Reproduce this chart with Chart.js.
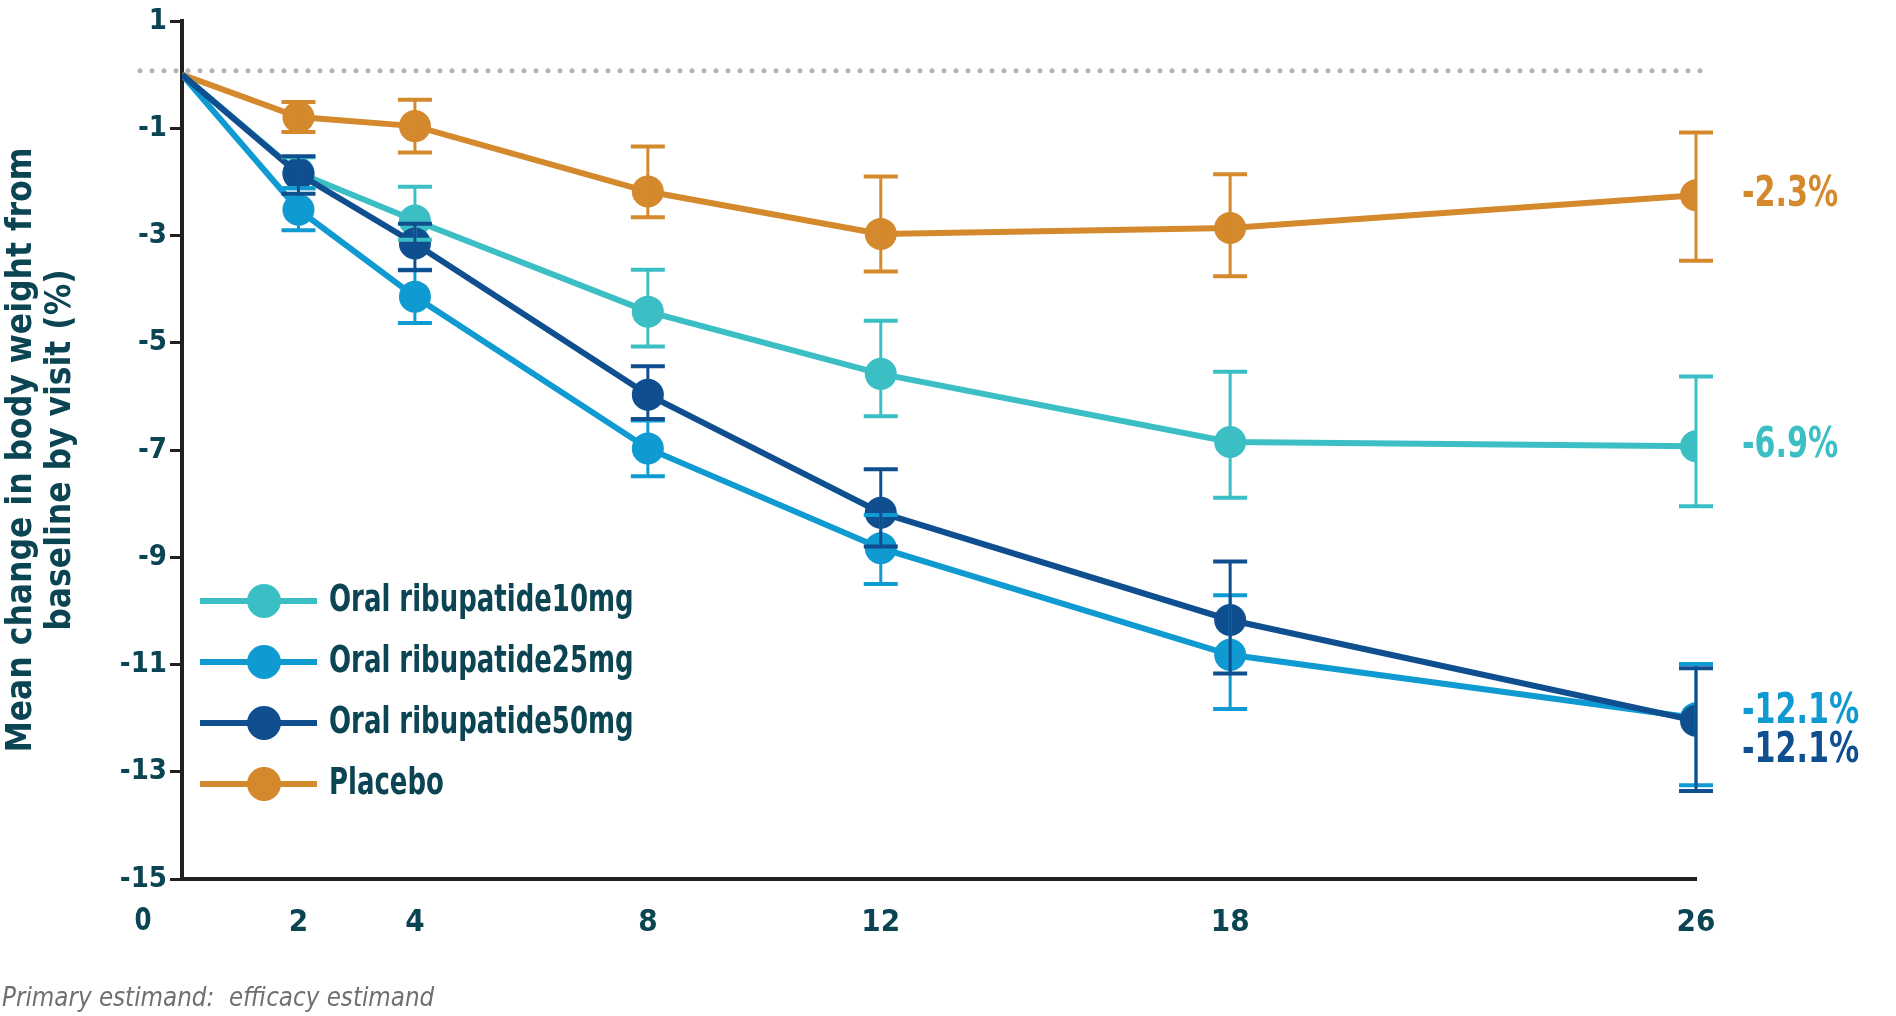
<!DOCTYPE html>
<html>
<head>
<meta charset="utf-8">
<script src="https://cdn.jsdelivr.net/npm/chart.js@4.4.1/dist/chart.umd.min.js"></script>
<style>
  html, body { margin: 0; padding: 0; background: #fff; }
  #wrap { width: 1896px; height: 1016px; position: relative; }
</style>
</head>
<body>
<div id="wrap"><canvas id="weightChart"></canvas></div>
<script>
// x axis: weeks from baseline
const weeks = [0, 2, 4, 8, 12, 18, 26];
const xTicks = [0, 2, 4, 8, 12, 18, 26];
const yTicks = [1, -1, -3, -5, -7, -9, -11, -13, -15];

const seriesNames = ["Oral ribupatide10mg", "Oral ribupatide25mg", "Oral ribupatide50mg", "Placebo"];

// mean change in body weight (%) per visit
const mean10 = [0, -1.83, -2.72, -4.42, -5.58, -6.85, -6.93];
const mean25 = [0, -2.52, -4.14, -6.97, -8.83, -10.82, -12.0];
const mean50 = [0, -1.85, -3.15, -5.97, -8.17, -10.17, -12.05];
const meanPbo = [0, -0.79, -0.96, -2.18, -2.97, -2.86, -2.25];

// error bar ends (upper / lower)
const hi10 = [null, -1.54, -2.09, -3.64, -4.59, -5.54, -5.63];
const lo10 = [null, -2.12, -3.08, -5.07, -6.37, -7.89, -8.05];
const hi25 = [null, -2.12, -3.64, -6.45, -8.21, -9.71, -10.99];
const lo25 = [null, -2.90, -4.63, -7.49, -9.50, -11.83, -13.25];
const hi50 = [null, -1.52, -2.78, -5.44, -7.36, -9.08, -11.07];
const lo50 = [null, -2.22, -3.65, -6.42, -8.80, -11.17, -13.36];
const hiPbo = [null, -0.51, -0.47, -1.34, -1.90, -1.86, -1.08];
const loPbo = [null, -1.07, -1.45, -2.66, -3.67, -3.76, -3.47];

const endLabels = ["-6.9%", "-12.1%", "-12.1%", "-2.3%"];
const yTitle = ["Mean change in body weight from", "baseline by visit (%)"];
const footnote = "Primary estimand:  efficacy estimand";

const colors = ["#3CBFC4", "#0F9BD2", "#0F4F90", "#D4892C"];
const textColor = "#0B4452";
const axisColor = "#231F20";
const FONT = "'DejaVu Sans Condensed', 'Liberation Sans Narrow', sans-serif";

const means = [mean10, mean25, mean50, meanPbo];
const his = [hi10, hi25, hi50, hiPbo];
const los = [lo10, lo25, lo50, loPbo];
const drawOrder = [2, 1, 0, 3]; // 50mg on top
const labelDy = [0, -6, 30, 0];

Chart.defaults.font.family = FONT;

// text squeezed sideways, the source uses a narrow face
function narrowText(ctx, txt, x, y, sx) {
  ctx.save();
  ctx.translate(x, y);
  ctx.scale(sx, 1);
  ctx.fillText(txt, 0, 0);
  ctx.restore();
}

// dotted zero line
const zeroLine = {
  id: "zeroLine",
  beforeDatasetsDraw(chart) {
    const { ctx, chartArea, scales } = chart;
    const y = scales.y.getPixelForValue(0);
    ctx.save();
    ctx.strokeStyle = "#B5B5B5";
    ctx.lineWidth = 5;
    ctx.lineCap = "round";
    ctx.setLineDash([0, 12]);
    ctx.beginPath();
    ctx.moveTo(chartArea.left - 42, y - 4);
    ctx.lineTo(chartArea.right + 10, y - 4);
    ctx.stroke();
    ctx.restore();
  }
};

// error bars, end labels, legend, footnote
const extras = {
  id: "extras",
  afterDatasetsDraw(chart) {
    const { ctx, scales } = chart;
    const xs = scales.x, ys = scales.y;
    ctx.save();
    [0, 1, 2, 3].forEach(s => {
      ctx.strokeStyle = colors[s];
      weeks.forEach((w, i) => {
        if (his[s][i] == null) return;
        const x = xs.getPixelForValue(w);
        const yt = ys.getPixelForValue(his[s][i]);
        const yb = ys.getPixelForValue(los[s][i]);
        ctx.lineWidth = 3;
        ctx.beginPath();
        ctx.moveTo(x, yt); ctx.lineTo(x, yb);
        ctx.stroke();
        ctx.lineWidth = 4;
        ctx.beginPath();
        ctx.moveTo(x - 17, yt); ctx.lineTo(x + 17, yt);
        ctx.moveTo(x - 17, yb); ctx.lineTo(x + 17, yb);
        ctx.stroke();
      });
    });
    ctx.restore();
  },
  afterDraw(chart) {
    const { ctx, chartArea, scales } = chart;
    const xs = scales.x, ys = scales.y;
    ctx.save();
    // end-of-study labels
    ctx.font = "bold 43px " + FONT;
    ctx.textAlign = "left";
    ctx.textBaseline = "middle";
    const lastX = xs.getPixelForValue(weeks[weeks.length - 1]);
    means.forEach((m, s) => {
      ctx.fillStyle = colors[s];
      narrowText(ctx, endLabels[s], lastX + 46, ys.getPixelForValue(m[m.length - 1]) + labelDy[s], 0.78);
    });

    // legend inside the plot
    ctx.font = "bold 38px " + FONT;
    seriesNames.forEach((name, s) => {
      const y = chartArea.bottom - 278 + s * 61;
      const x0 = chartArea.left + 18;
      ctx.strokeStyle = colors[s];
      ctx.fillStyle = colors[s];
      ctx.lineWidth = 6;
      ctx.beginPath();
      ctx.moveTo(x0, y); ctx.lineTo(x0 + 117, y);
      ctx.stroke();
      ctx.beginPath();
      ctx.arc(x0 + 64, y, 17, 0, Math.PI * 2);
      ctx.fill();
      ctx.fillStyle = textColor;
      narrowText(ctx, name, x0 + 129, y, 0.76);
    });

    // "0" label sits left of the y axis
    ctx.font = "bold 32px " + FONT;
    ctx.textAlign = "center";
    ctx.fillStyle = textColor;
    narrowText(ctx, "0", xs.getPixelForValue(0) - 39, chartArea.bottom + 43, 0.85);

    // footnote
    ctx.font = "italic 27px " + FONT;
    ctx.textAlign = "left";
    ctx.fillStyle = "#707070";
    narrowText(ctx, footnote, 2, 999, 0.95);
    ctx.restore();
  }
};

const datasets = seriesNames.map((name, s) => ({
  label: name,
  data: weeks.map((w, i) => ({ x: w, y: means[s][i] })),
  borderColor: colors[s],
  backgroundColor: colors[s],
  borderWidth: 6,
  pointRadius: c => (c.dataIndex === 0 ? 0 : 16),
  pointHoverRadius: 16,
  pointBorderWidth: 0,
  tension: 0,
  order: drawOrder[s]
}));

new Chart(document.getElementById("weightChart"), {
  type: "line",
  data: { datasets },
  options: {
    responsive: true,
    maintainAspectRatio: false,
    animation: false,
    layout: { padding: { top: 21, right: 200, bottom: 0, left: 0 } },
    plugins: { legend: { display: false }, tooltip: { enabled: false } },
    scales: {
      x: {
        type: "linear",
        min: 0,
        max: 26,
        afterBuildTicks: sc => { sc.ticks = xTicks.map(v => ({ value: v })); },
        afterFit: sc => { sc.height = 137; },
        grid: { display: false, drawTicks: false },
        border: { display: true, color: axisColor, width: 4 },
        ticks: {
          padding: 25,
          color: textColor,
          font: { size: 31, weight: "bold" },
          callback: v => (v === 0 ? "" : v)
        }
      },
      y: {
        min: -15,
        max: 1,
        afterBuildTicks: sc => { sc.ticks = yTicks.map(v => ({ value: v })); },
        afterFit: sc => { sc.width = 182; },
        grid: { display: true, drawOnChartArea: false, drawTicks: true, tickLength: 12, color: axisColor, lineWidth: 3 },
        border: { display: true, color: axisColor, width: 4 },
        ticks: {
          padding: 3,
          color: textColor,
          font: { size: 29, weight: "bold" }
        },
        title: {
          display: true,
          text: yTitle,
          color: textColor,
          font: { size: 35, weight: "bold", lineHeight: 1.1 },
          padding: { top: 3, bottom: 0 }
        }
      }
    }
  },
  plugins: [zeroLine, extras]
});
</script>
</body>
</html>
